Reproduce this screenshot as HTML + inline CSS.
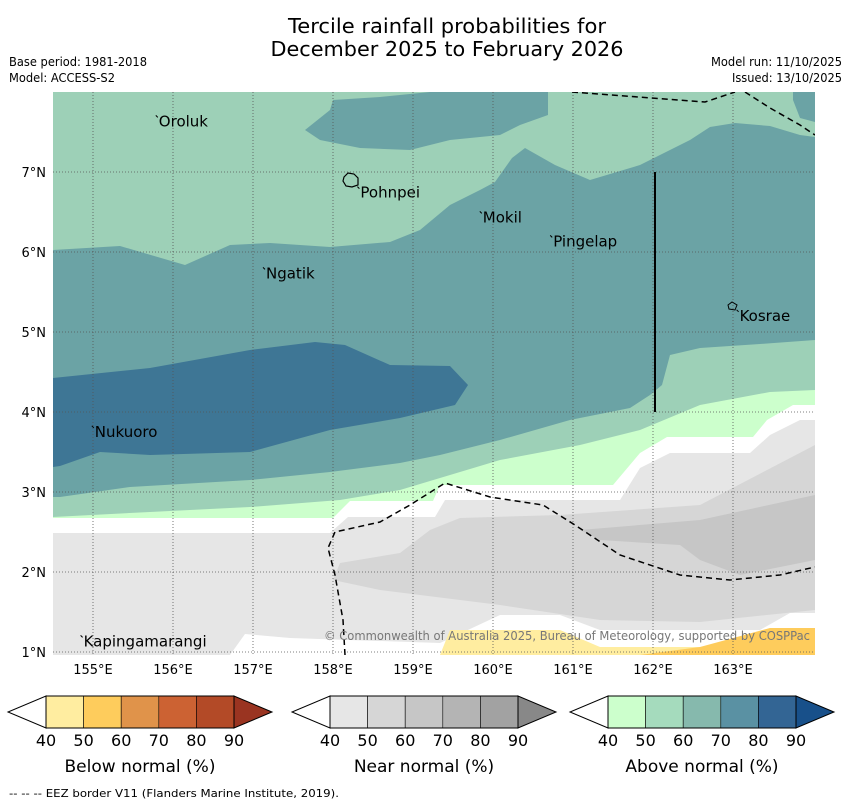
<!DOCTYPE html>
<html><head><meta charset="utf-8"><style>
html,body{margin:0;padding:0;background:#fff;width:850px;height:804px;overflow:hidden}
text{font-family:"DejaVu Sans","Liberation Sans",sans-serif}
</style></head><body>
<svg id="chart" width="850" height="804" viewBox="0 0 850 804" xmlns="http://www.w3.org/2000/svg">
<text x="447" y="33" font-size="20" text-anchor="middle" textLength="318" lengthAdjust="spacingAndGlyphs">Tercile rainfall probabilities for</text>
<text x="447" y="56" font-size="20" text-anchor="middle" textLength="353" lengthAdjust="spacingAndGlyphs">December 2025 to February 2026</text>
<text x="9" y="66" font-size="12" textLength="138" lengthAdjust="spacingAndGlyphs">Base period: 1981-2018</text>
<text x="9" y="82" font-size="12" textLength="106" lengthAdjust="spacingAndGlyphs">Model: ACCESS-S2</text>
<text x="842" y="66" font-size="12" text-anchor="end" textLength="131" lengthAdjust="spacingAndGlyphs">Model run: 11/10/2025</text>
<text x="842" y="82" font-size="12" text-anchor="end" textLength="110" lengthAdjust="spacingAndGlyphs">Issued: 13/10/2025</text>

<defs><clipPath id="mc"><rect x="53" y="92" width="762" height="563"/></clipPath></defs>
<g id="map" clip-path="url(#mc)">
<rect x="53" y="92" width="762" height="563" fill="#9dd0b7"/>
<polygon fill="#6ba3a5" points="333,100 380,97 430,92 548,92 548,115 520,125 500,135 450,140 410,150 360,148 320,140 305,130 330,110"/>
<polygon fill="#6ba3a5" points="793,92 815,92 815,122 800,118 793,100"/>
<polygon fill="#6ba3a5" points="53,250 120,246 185,265 230,245 270,243 330,247 390,242 420,230 450,205 480,190 495,182 512,158 525,148 555,165 590,180 640,165 690,140 710,127 735,123 770,126 800,135 815,137 815,340 760,344 700,348 670,355 662,385 650,395 630,408 570,420 500,440 440,455 400,463 330,472 250,480 130,487 60,497 53,497"/>
<polygon fill="#3e7695" points="53,378 150,368 250,350 315,342 345,345 390,365 450,366 468,385 455,405 400,418 330,430 250,452 150,455 100,452 60,466 53,467"/>
<polygon fill="#ccffcc" points="815,390 770,392 700,405 640,430 580,445 500,460 440,478 400,490 340,500 250,507 150,512 53,517 53,655 815,655"/>
<polygon fill="#ffffff" points="53,518 333,518 350,501 433,501 440,485 613,485 640,453 667,437 753,437 767,420 793,405 815,405 815,655 53,655"/>
<polygon fill="#e6e6e6" points="53,533 330,533 348,517 435,517 445,500 620,500 640,468 670,453 750,453 770,435 800,420 815,420 815,655 53,655"/>
<polygon fill="#d6d6d6" points="333,580 340,563 400,553 430,530 460,518 560,515 700,505 815,445 815,610 700,622 600,620 500,605 380,590"/>
<polygon fill="#c6c6c6" points="580,530 700,520 815,495 815,560 740,575 700,560 680,545 600,540"/>
<polygon fill="#ffffff" points="230,655 245,634 290,638 440,643 500,615 560,615 600,630 760,630 790,613 815,613 815,655"/>
<polygon fill="#ffeda0" points="440,655 450,630 560,630 600,647 760,647 780,630 815,630 815,655"/>
<polygon fill="#fecc5c" points="640,655 700,647 770,628 815,628 815,655"/>
<g id="grid" stroke="#555" stroke-width="0.8" stroke-dasharray="1,2"></g>
<polyline fill="none" stroke="#000" stroke-width="1.5" stroke-dasharray="6,4" points="572,92 705,102 735,92"/>
<polyline fill="none" stroke="#000" stroke-width="1.5" stroke-dasharray="6,4" points="745,92 770,108 800,125 815,135"/>
<polyline fill="none" stroke="#000" stroke-width="1.5" stroke-dasharray="6,4" points="345,655 343,620 335,575 328,548 335,532 380,522 410,505 445,483 490,497 543,505 575,525 620,555 680,575 730,580 780,575 815,567"/>
<line x1="655" y1="172" x2="655" y2="412" stroke="#000" stroke-width="2"/>
<path d="M344,177 L348,173 L354,174 L358,178 L358,185 L352,187 L346,186 L343,181 Z" fill="none" stroke="#000" stroke-width="1.2"/>
<path d="M728,305 L732,302 L737,305 L735,310 L729,309 Z" fill="none" stroke="#000" stroke-width="1"/>
<g id="places"></g>
<text x="810" y="640" font-size="12" fill="#777" text-anchor="end" textLength="486" lengthAdjust="spacingAndGlyphs">© Commonwealth of Australia 2025, Bureau of Meteorology, supported by COSPPac</text>
</g>
<g id="axes"></g>

<g id="cbars"></g>
<text x="9" y="797" font-size="11" textLength="330" lengthAdjust="spacingAndGlyphs">--  --  -- EEZ border V11 (Flanders Marine Institute, 2019).</text>
</svg>
<script>
const lonTicks = [155,156,157,158,159,160,161,162,163];
const latTicks = [1,2,3,4,5,6,7];
const placeNames = ["Oroluk","Pohnpei","Mokil","Pingelap","Ngatik","Kosrae","Nukuoro","Kapingamarangi"];
const placeLon = [155.81,158.33,159.86,160.74,157.15,163.07,155.01,154.87];
const placeLat = [7.67,6.78,6.47,6.17,5.77,5.24,3.79,1.17];
const cbLabels = [40,50,60,70,80,90];
const belowColors = ["#ffeda0","#fecc5c","#e0934a","#cc6233","#b34a27","#9a3421"];
const nearColors = ["#e6e6e6","#d6d6d6","#c6c6c6","#b4b4b4","#a2a2a2","#888888"];
const aboveColors = ["#ccffcc","#a5dbbd","#86b9ad","#5a91a3","#336594","#18508a"];
const cbTitles = ["Below normal (%)","Near normal (%)","Above normal (%)"];

const NS="http://www.w3.org/2000/svg";
const xs = lon => 93 + (lon-155)*80;
const ys = lat => 652 - (lat-1)*80;
function mk(tag, attrs, parent){const e=document.createElementNS(NS,tag);for(const k in attrs)e.setAttribute(k,attrs[k]);parent.appendChild(e);return e;}
const grid=document.getElementById('grid'), axes=document.getElementById('axes');
lonTicks.forEach(l=>{
  const g=mk('line',{x1:xs(l),x2:xs(l),y1:92,y2:655},grid);
  
  
  const t=mk('text',{x:xs(l),y:674,'font-size':13,'text-anchor':'middle'},axes);
  
  
  t.textContent=l+'°E';
});
latTicks.forEach(l=>{
  const g=mk('line',{x1:53,x2:815,y1:ys(l),y2:ys(l)},grid);
  
  
  const t=mk('text',{x:46,y:ys(l)+5,'font-size':13,'text-anchor':'end'},axes);
  
  
  t.textContent=l+'°N';
});
const places=document.getElementById('places');
placeNames.forEach((n,i)=>{
  const x=xs(placeLon[i]), y=ys(placeLat[i]);
  const d=mk('line',{x1:x-2,y1:y-3,x2:x,y2:y-1,stroke:'#000','stroke-width':1},places);
  
  
  const t=mk('text',{x:x+1,y:y+8,'font-size':15},places);
  
  
  t.textContent=n;
});
const cb=document.getElementById('cbars');
const bars=[[46,belowColors],[330,nearColors],[608,aboveColors]];
bars.forEach(([x0,cols],bi)=>{
  const w=37.6, y0=696, h=32;
  const g=mk('g',{},cb);
  
  
  const lt=mk('polygon',{points:`${x0},${y0} ${x0},${y0+h} ${x0-38},${y0+h/2}`,fill:'#fff',stroke:'#000','stroke-width':1},g);
  
  
  for(let i=0;i<5;i++){
    const r=mk('rect',{x:x0+i*w,y:y0,width:w,height:h,fill:cols[i],stroke:'#000','stroke-width':0.6},g);
    
    
  }
  const xe=x0+5*w;
  const rt=mk('polygon',{points:`${xe},${y0} ${xe},${y0+h} ${xe+38},${y0+h/2}`,fill:cols[5],stroke:'#000','stroke-width':1},g);
  
  
  mk('rect',{x:x0,y:y0,width:5*w,height:h,fill:'none',stroke:'#000','stroke-width':1},g);
  cbLabels.forEach((v,i)=>{
    const t=mk('text',{x:x0+i*w,y:746,'font-size':16,'text-anchor':'middle'},g);
    
    
    t.textContent=v;
  });
  const tt=mk('text',{x:x0+2.5*w,y:772,'font-size':17,'text-anchor':'middle'},g);
  
  
  tt.textContent=cbTitles[bi];
});
</script>
</body></html>
